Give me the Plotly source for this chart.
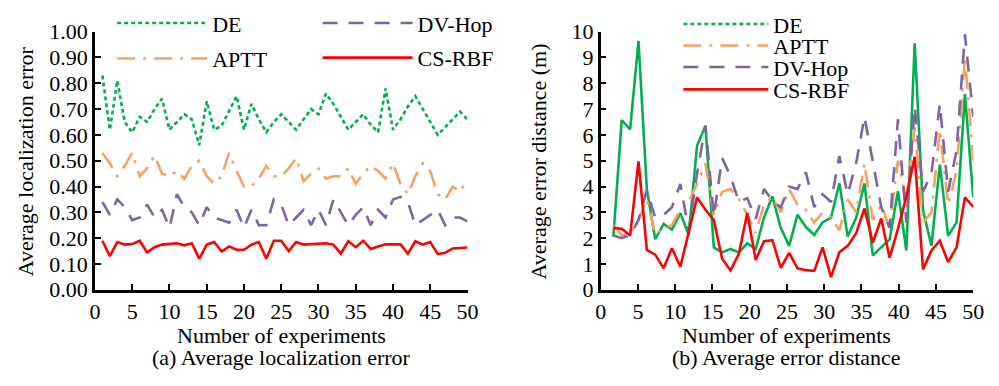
import plotly.graph_objects as go

# ---------------- data: (a) Average localization error ----------------
exp_a = list(range(1, 51))
de_a = [0.83, 0.62, 0.81, 0.65, 0.61, 0.67, 0.65, 0.70, 0.74, 0.62,
        0.65, 0.68, 0.66, 0.56, 0.73, 0.62, 0.635, 0.69, 0.75, 0.62,
        0.72, 0.66, 0.61, 0.65, 0.68, 0.65, 0.62, 0.66, 0.70, 0.68,
        0.76, 0.72, 0.67, 0.62, 0.65, 0.68, 0.64, 0.61, 0.78, 0.62,
        0.66, 0.71, 0.75, 0.70, 0.65, 0.60, 0.63, 0.66, 0.69, 0.66]
aptt_a = [0.53, 0.49, 0.44, 0.48, 0.53, 0.44, 0.47, 0.52, 0.45, 0.44,
          0.46, 0.43, 0.48, 0.50, 0.44, 0.41, 0.44, 0.53, 0.46, 0.40,
          0.40, 0.43, 0.48, 0.44, 0.44, 0.47, 0.51, 0.42, 0.45, 0.47,
          0.43, 0.44, 0.44, 0.47, 0.41, 0.45, 0.48, 0.46, 0.43, 0.49,
          0.41, 0.37, 0.44, 0.49, 0.46, 0.37, 0.35, 0.40, 0.38, 0.43]
dvhop_a = [0.34, 0.29, 0.35, 0.32, 0.27, 0.28, 0.33, 0.28, 0.31, 0.24,
           0.37, 0.32, 0.30, 0.25, 0.32, 0.28, 0.27, 0.26, 0.31, 0.24,
           0.31, 0.25, 0.25, 0.35, 0.33, 0.25, 0.28, 0.31, 0.25, 0.31,
           0.25, 0.35, 0.30, 0.25, 0.29, 0.32, 0.25, 0.31, 0.28, 0.35,
           0.36, 0.34, 0.25, 0.27, 0.29, 0.31, 0.25, 0.28, 0.28, 0.265]
csrbf_a = [0.19, 0.13, 0.185, 0.175, 0.177, 0.19, 0.145, 0.165, 0.175, 0.178,
           0.18, 0.172, 0.18, 0.12, 0.175, 0.185, 0.148, 0.168, 0.155, 0.155,
           0.175, 0.185, 0.12, 0.19, 0.19, 0.15, 0.185, 0.175, 0.176, 0.177,
           0.18, 0.175, 0.14, 0.188, 0.165, 0.19, 0.158, 0.168, 0.176, 0.176,
           0.176, 0.14, 0.188, 0.175, 0.185, 0.138, 0.143, 0.16, 0.162, 0.164]

# ---------------- data: (b) Average error distance (m) ----------------
exp_b = [1.70, 2.82, 3.95, 5.07, 6.19, 7.32, 8.44, 9.56, 10.69, 11.81,
         12.93, 14.06, 15.18, 16.30, 17.43, 18.55, 19.67, 20.80, 21.92, 23.04,
         24.17, 25.29, 26.41, 27.54, 28.66, 29.78, 30.91, 32.03, 33.15, 34.28,
         35.40, 36.52, 37.65, 38.77, 39.89, 41.02, 42.14, 43.26, 44.39, 45.51,
         46.63, 47.76, 48.88, 50.00]
de_b = [2.06, 6.57, 6.21, 9.64, 3.90, 1.96, 2.55, 2.33, 2.97, 2.12,
        5.58, 6.35, 1.64, 1.45, 1.58, 1.45, 1.80, 1.58, 2.80, 3.62,
        2.40, 1.70, 2.91, 2.43, 2.12, 2.61, 2.79, 4.12, 2.06, 2.79,
        4.12, 1.33, 1.65, 1.94, 3.82, 1.52, 9.55, 3.09, 1.70, 4.85,
        2.09, 2.61, 7.58, 3.58]
aptt_b = [2.50, 2.10, 2.15, 2.70, 3.50, 2.15, 2.40, 2.50, 3.10, 3.40,
          4.10, 4.90, 2.90, 3.80, 3.90, 3.50, 2.90, 2.20, 3.30, 3.60,
          3.00, 3.90, 3.30, 3.10, 2.60, 3.00, 2.80, 2.30, 3.50, 3.00,
          4.90, 2.70, 3.30, 2.40, 5.00, 3.50, 6.30, 2.60, 3.00, 6.20,
          3.30, 4.60, 9.00, 5.00]
dvhop_b = [2.10, 2.00, 2.10, 2.70, 3.85, 2.80, 2.90, 3.20, 4.10, 2.30,
           4.50, 6.36, 2.85, 5.10, 4.40, 3.40, 3.55, 2.75, 3.90, 3.45,
           3.20, 4.00, 3.90, 4.55, 3.20, 3.70, 3.40, 5.18, 3.70, 4.90,
           6.70, 4.90, 3.20, 2.40, 6.60, 2.60, 7.10, 3.80, 4.50, 7.20,
           3.80, 5.40, 9.90, 6.70]
csrbf_b = [2.40, 2.36, 2.10, 4.97, 1.54, 1.36, 0.83, 1.61, 0.89, 2.20,
           3.58, 3.10, 2.70, 1.20, 0.75, 1.40, 2.97, 1.15, 1.88, 1.92,
           0.85, 1.43, 0.83, 0.76, 0.73, 1.64, 0.49, 1.45, 1.70, 2.18,
           3.15, 1.82, 2.76, 1.24, 2.36, 3.60, 5.15, 0.79, 1.52, 1.90,
           1.07, 1.64, 3.58, 3.21]

names = ["DE", "APTT", "DV-Hop", "CS-RBF"]
colors = {"DE": "#00B050", "APTT": "#F8A15E", "DV-Hop": "#8064A2", "CS-RBF": "#FF0000"}
dashes = {"DE": "4px,3px", "APTT": "18px,8px,3px,8px", "DV-Hop": "15px,11px", "CS-RBF": "solid"}

FONT = "Liberation Serif, Times New Roman, serif"
W, H = 999, 386

fig = go.Figure()

series_a = {"DE": de_a, "APTT": aptt_a, "DV-Hop": dvhop_a, "CS-RBF": csrbf_a}
series_b = {"DE": de_b, "APTT": aptt_b, "DV-Hop": dvhop_b, "CS-RBF": csrbf_b}

# legends 1-4 for (a), 5-8 for (b)
leg_ids = ["legend", "legend2", "legend3", "legend4", "legend5", "legend6", "legend7", "legend8"]

for i, n in enumerate(names):
    fig.add_trace(go.Scatter(
        x=exp_a, y=series_a[n], mode="lines", name=n,
        line=dict(color=colors[n], width=2.6, dash=dashes[n]),
        xaxis="x", yaxis="y", legend=leg_ids[i], showlegend=True))

for i, n in enumerate(names):
    solid_de = (n == "DE")
    fig.add_trace(go.Scatter(
        x=exp_b, y=series_b[n], mode="lines", name=n,
        line=dict(color=colors[n], width=2.6, dash="solid" if solid_de else dashes[n]),
        xaxis="x2", yaxis="y2", legend=leg_ids[4 + i], showlegend=not solid_de))
    if solid_de:
        # legend entry drawn with the dotted style shown in the reference legend
        fig.add_trace(go.Scatter(
            x=[None], y=[None], mode="lines", name=n,
            line=dict(color=colors[n], width=2.6, dash=dashes[n]),
            xaxis="x2", yaxis="y2", legend=leg_ids[4 + i], showlegend=True))

def px_x(p):
    return p / W

def px_y(p):
    return 1 - p / H

axis_common = dict(
    showline=True, linecolor="black", linewidth=2.5, mirror=False,
    ticks="inside", ticklen=6, tickwidth=2, tickcolor="black",
    showgrid=False, zeroline=False,
    tickfont=dict(family=FONT, size=22, color="black"),
)

y_dom = [px_y(297), px_y(21)]
fig.update_layout(
    width=W, height=H, margin=dict(l=0, r=0, t=0, b=0),
    paper_bgcolor="white", plot_bgcolor="white", showlegend=True,
    font=dict(family=FONT, size=22, color="black"),
    xaxis=dict(domain=[px_x(90.5), px_x(469.5)], range=[0, 50], tickvals=list(range(0, 51, 5)),
               anchor="y", **axis_common),
    yaxis=dict(domain=y_dom, range=[0, 1], tickvals=[i / 10 for i in range(11)],
               tickformat=".2f", anchor="x", **axis_common),
    xaxis2=dict(domain=[px_x(605), px_x(984)], range=[0, 50], tickvals=list(range(0, 51, 5)),
                anchor="y2", **axis_common),
    yaxis2=dict(domain=y_dom, range=[0, 10], tickvals=list(range(0, 11)),
                anchor="x2", **axis_common),
)

leg_common = dict(bgcolor="rgba(0,0,0,0)", borderwidth=0, visible=True,
                  font=dict(family=FONT, size=22, color="black"),
                  xanchor="left", yanchor="middle")
# (left px, centre px, item width)
leg_pos = {
    "legend": (108, 12, 90), "legend2": (108, 50, 90),
    "legend3": (317, 12, 90), "legend4": (317, 49, 90),
    "legend5": (684, 13, 85), "legend6": (684, 36, 85),
    "legend7": (684, 59, 85), "legend8": (684, 83, 85),
}
for k, (lx, ly, iw) in leg_pos.items():
    fig.update_layout({k: dict(x=px_x(lx), y=px_y(ly), itemwidth=iw, **leg_common)})

ann = [
    dict(text="Average localization error", x=px_x(20), y=px_y(160), textangle=-90),
    dict(text="Number of experiments", x=px_x(280), y=px_y(346)),
    dict(text="(a) Average localization error", x=px_x(280), y=px_y(369)),
    dict(text="Average error distance (m)", x=px_x(542), y=px_y(160), textangle=-90),
    dict(text="Number of experiments", x=px_x(794), y=px_y(346)),
    dict(text="(b) Average error distance", x=px_x(794), y=px_y(369)),
]
for a in ann:
    fig.add_annotation(xref="paper", yref="paper", showarrow=False,
                       xanchor="center", yanchor="middle",
                       font=dict(family=FONT, size=22, color="black"), **a)

fig.write_html("out.html")
